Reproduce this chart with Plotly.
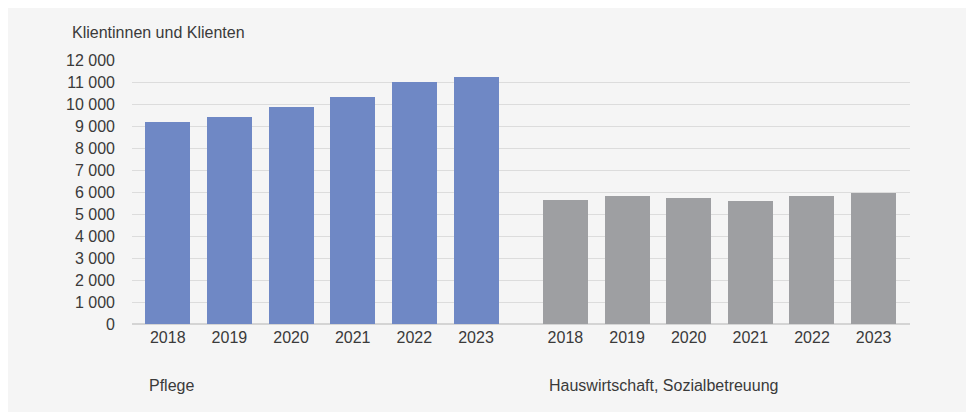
import plotly.graph_objects as go

years = ["2018", "2019", "2020", "2021", "2022", "2023"]
pflege = [9200, 9420, 9860, 10320, 10990, 11250]
hauswirtschaft = [5620, 5820, 5710, 5580, 5820, 5970]
group_labels = ["Pflege", "Hauswirtschaft, Sozialbetreuung"]
y_title = "Klientinnen und Klienten"
y_ticks = list(range(0, 13000, 1000))
y_ticktext = ["0" if v == 0 else f"{v:,}".replace(",", " ") for v in y_ticks]

GROUP_OFFSET = 6.45
x1 = list(range(len(years)))
x2 = [i + GROUP_OFFSET for i in x1]

FONT = "Liberation Sans"
FS = 16
TXT = "#3a3a3a"
W, H = 974, 412
ML, MR, MT, MB = 124, 72, 52, 96
PW, PH = W - ML - MR, H - MT - MB

def px_x(p):
    return (p - ML) / PW

def px_y(p):
    return (H - MB - p) / PH

fig = go.Figure()
fig.add_trace(go.Bar(x=x1, y=pflege, width=0.73, marker=dict(color="#6f88c5", line=dict(width=0)),
                     name=group_labels[0], hoverinfo="y"))
fig.add_trace(go.Bar(x=x2, y=hauswirtschaft, width=0.73, marker=dict(color="#9e9fa2", line=dict(width=0)),
                     name=group_labels[1], hoverinfo="y"))

fig.update_layout(
    width=W, height=H,
    margin=dict(l=ML, r=MR, t=MT, b=MB),
    paper_bgcolor="#f5f5f5",
    plot_bgcolor="rgba(0,0,0,0)",
    showlegend=False,
    font=dict(family=FONT, size=FS, color=TXT),
    xaxis=dict(
        range=[-0.58, 12.04],
        tickvals=x1 + x2,
        ticktext=years + years,
        showgrid=False,
        zeroline=False,
        showline=False,
        ticks="",
        ticklabelstandoff=2,
        tickfont=dict(family=FONT, size=FS, color=TXT),
        fixedrange=True,
    ),
    yaxis=dict(
        range=[0, 12000],
        tickvals=y_ticks,
        ticktext=y_ticktext,
        showgrid=True,
        gridcolor="#dcdcdc",
        gridwidth=1,
        zeroline=True,
        zerolinecolor="#d4d4d4",
        zerolinewidth=2,
        showline=False,
        ticks="",
        ticklabelstandoff=16,
        tickfont=dict(family=FONT, size=FS, color=TXT),
        fixedrange=True,
    ),
    annotations=[
        dict(text=y_title, xref="paper", yref="paper", x=px_x(62), y=px_y(24),
             xanchor="left", yanchor="middle", showarrow=False,
             font=dict(family=FONT, size=FS, color=TXT)),
        dict(text=group_labels[0], xref="x", yref="paper", x=x1[0] - 0.33, y=px_y(377),
             xanchor="left", yanchor="middle", showarrow=False,
             font=dict(family=FONT, size=FS, color=TXT)),
        dict(text=group_labels[1], xref="x", yref="paper", x=x2[0] - 0.30, y=px_y(377),
             xanchor="left", yanchor="middle", showarrow=False,
             font=dict(family=FONT, size=FS, color=TXT)),
    ],
    bargap=0,
)

fig.write_html("out.html")
